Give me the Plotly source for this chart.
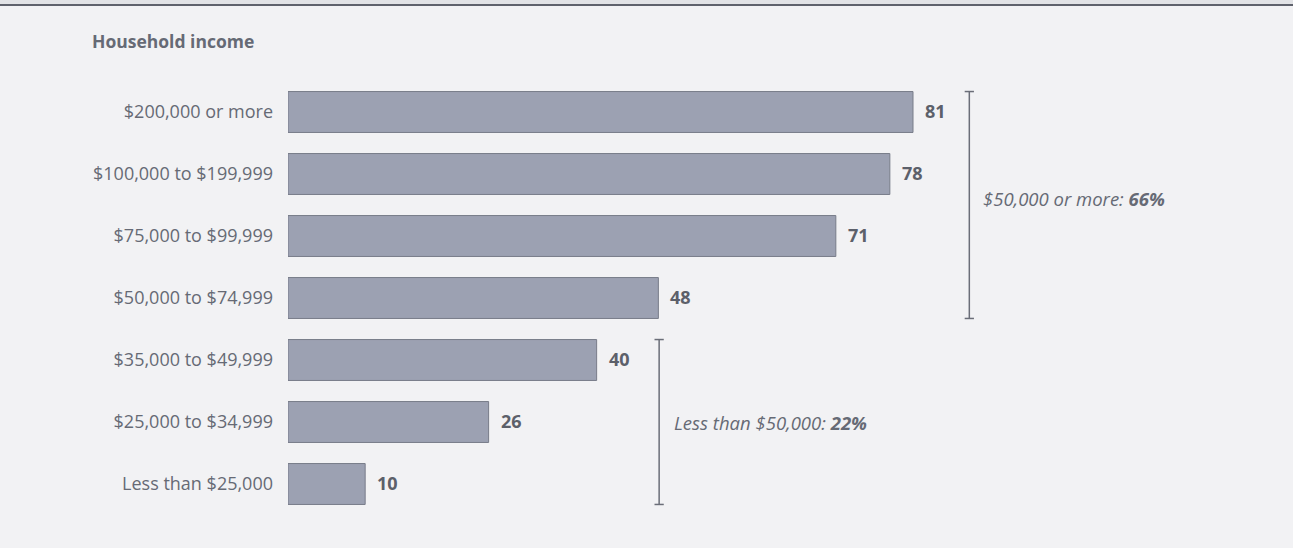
import plotly.graph_objects as go

# Share of households by income bracket (%)
categories = [
    "$200,000 or more",
    "$100,000 to $199,999",
    "$75,000 to $99,999",
    "$50,000 to $74,999",
    "$35,000 to $49,999",
    "$25,000 to $34,999",
    "Less than $25,000",
]
values = [81, 78, 71, 48, 40, 26, 10]

# Group summaries: (first index, last index, label, share)
groups = [
    (0, 3, "$50,000 or more: ", 66),
    (4, 6, "Less than $50,000: ", 22),
]

BG = "#f2f2f4"
BAR = "#9ca1b2"
BAR_EDGE = "#787c89"
TEXT = "#666a75"
DARK = "#5c606a"
FONT = "Open Sans"

W, H = 1293, 548
L, R, T, B = 288, 0, 81, 33
px_per_unit = 7.716
x_max = (W - L - R) / px_per_unit
half_bar = 0.33

ypos = list(range(len(categories)))

fig = go.Figure()
fig.add_trace(go.Bar(
    x=values,
    y=ypos,
    orientation="h",
    marker=dict(color=BAR, line=dict(color=BAR_EDGE, width=1)),
    width=2 * half_bar,
    hoverinfo="skip",
))

annotations = []
for yi, v in zip(ypos, values):
    annotations.append(dict(
        x=v, y=yi, xref="x", yref="y", text=f"<b>{v}</b>",
        showarrow=False, xanchor="left", yanchor="middle", xshift=10, yshift=1,
        font=dict(family=FONT, size=18, color=DARK),
    ))

shapes = []
# Bracket placement and label offsets for each summarized group
bracket_x = [88.3, 48.1]
label_shift = [(12, 7), (13, 0)]
for (i0, i1, label, share), bx, (dx, dy) in zip(groups, bracket_x, label_shift):
    y_top = i0 - half_bar
    y_bot = i1 + half_bar
    line = dict(color="#6b6e78", width=1.5)
    shapes.append(dict(type="line", xref="x", yref="y", x0=bx, x1=bx, y0=y_top, y1=y_bot, line=line))
    cap = 0.6
    shapes.append(dict(type="line", xref="x", yref="y", x0=bx - cap, x1=bx + cap, y0=y_top, y1=y_top, line=line))
    shapes.append(dict(type="line", xref="x", yref="y", x0=bx - cap, x1=bx + cap, y0=y_bot, y1=y_bot, line=line))
    annotations.append(dict(
        x=bx, y=(y_top + y_bot) / 2, xref="x", yref="y",
        text=f"<i>{label}<b>{share}%</b></i>",
        showarrow=False, xanchor="left", yanchor="middle", xshift=dx, yshift=dy,
        font=dict(family=FONT, size=18.5, color=TEXT),
    ))

# Header strip along the top edge
plot_w = W - L - R
plot_h = H - T - B
shapes.append(dict(type="rect", xref="paper", yref="paper",
                   x0=-L / plot_w, x1=1.0, y0=1 + (T - 4) / plot_h, y1=1 + T / plot_h,
                   fillcolor="#e2e3e6", line=dict(width=0), layer="below"))
shapes.append(dict(type="line", xref="paper", yref="paper",
                   x0=-L / plot_w, x1=1.0, y0=1 + (T - 5) / plot_h, y1=1 + (T - 5) / plot_h,
                   line=dict(color="#5f626c", width=2)))

annotations.append(dict(
    x=(90 - L) / plot_w, y=1 + (T - 41) / plot_h, xref="paper", yref="paper",
    text="<b>Household income</b>", showarrow=False, xanchor="left", yanchor="middle",
    font=dict(family=FONT, size=17.5, color=TEXT),
))

fig.update_layout(
    width=W, height=H,
    margin=dict(l=L, r=R, t=T, b=B, pad=0),
    paper_bgcolor=BG, plot_bgcolor=BG,
    showlegend=False,
    xaxis=dict(range=[0, x_max], visible=False, fixedrange=True),
    yaxis=dict(
        range=[len(categories) - 0.5, -0.5],
        tickmode="array", tickvals=ypos, ticktext=categories,
        showgrid=False, zeroline=False, showline=False, ticks="",
        ticklabelstandoff=14,
        tickfont=dict(family=FONT, size=18, color=TEXT),
        fixedrange=True,
    ),
    shapes=shapes,
    annotations=annotations,
)

fig.write_html("out.html", config={"displayModeBar": False})
